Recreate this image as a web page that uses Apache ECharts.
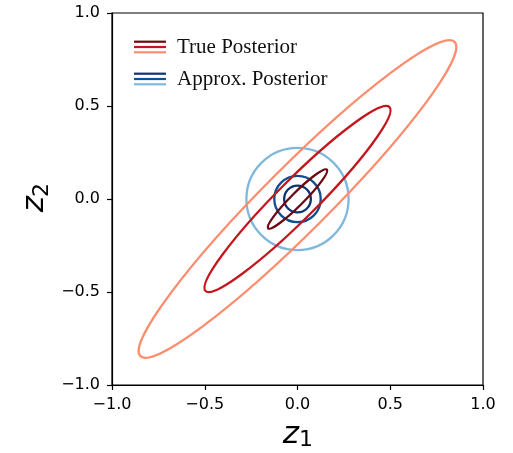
<!DOCTYPE html>
<html>
<head>
<meta charset="utf-8">
<title>Posterior contours</title>
<script src="https://cdn.jsdelivr.net/npm/echarts@6/dist/echarts.min.js"></script>
<style>
  html, body { margin: 0; padding: 0; background: #fff; }
  #main { width: 513px; height: 453px; }
</style>
</head>
<body>
<div id="main"></div>
<script>
// axis ticks (both axes)
var ticks = [-1.0, -0.5, 0.0, 0.5, 1.0];

// true posterior contours: centre, semi-major, semi-minor, angle (deg)
var trueCx = [0, 0, 0];
var trueCy = [0, 0, 0];
var trueMajor = [0.224, 0.70, 1.196];
var trueMinor = [0.034, 0.105, 0.175];
var trueAngle = [45, 45, 45];

// approx. posterior contours: centre and radius
var approxCx = [0, 0, 0];
var approxCy = [0, 0, 0];
var approxRadius = [0.072, 0.125, 0.275];

var legendNames = ['True Posterior', 'Approx. Posterior'];

// styles
var trueColors = ['#6b0811', '#c4161c', '#fc8d6e'];
var approxColors = ['#0b3470', '#0e4f92', '#7fb8dc'];

window.onload = function () {
  var myChart = echarts.init(document.getElementById('main'));

  var trueData = [];
  for (var i = 0; i < trueCx.length; i++) {
    trueData.push([trueCx[i], trueCy[i], trueMajor[i], trueMinor[i], trueAngle[i]]);
  }
  var approxData = [];
  for (var j = 0; j < approxCx.length; j++) {
    approxData.push([approxCx[j], approxCy[j], approxRadius[j], approxRadius[j], 0]);
  }

  function makeRender(colors) {
    return function (params, api) {
      var c = api.coord([api.value(0), api.value(1)]);
      var s = api.size([1, 1]);
      var k = (s[0] + s[1]) / 2;
      return {
        type: 'ellipse',
        x: c[0],
        y: c[1],
        rotation: api.value(4) * Math.PI / 180,
        shape: { cx: 0, cy: 0, rx: api.value(2) * k, ry: api.value(3) * k },
        style: { fill: null, stroke: colors[params.dataIndex], lineWidth: 2.3 }
      };
    };
  }

  var tickFmt = function (v) {
    return (v < 0 ? '\u2212' : '') + Math.abs(v).toFixed(1);
  };

  var axisCommon = {
    type: 'value',
    min: ticks[0],
    max: ticks[ticks.length - 1],
    interval: ticks[1] - ticks[0],
    splitLine: { show: false },
    axisLine: { show: true, onZero: false, lineStyle: { color: '#000', width: 1.2 } },
    axisTick: { show: true, inside: false, length: 5, lineStyle: { color: '#000', width: 1.2 } },
    axisLabel: {
      formatter: tickFmt,
      color: '#000',
      fontFamily: 'DejaVu Sans',
      fontSize: 16,
      margin: 12
    }
  };

  // legend drawn by hand (three stacked lines per entry)
  var legendEls = [];
  var groups = [trueColors, approxColors];
  var rowY = [47, 79];
  for (var g = 0; g < groups.length; g++) {
    for (var n = 0; n < 3; n++) {
      var yy = rowY[g] - 5.3 + n * 5.3;
      legendEls.push({
        type: 'line',
        shape: { x1: 134, y1: yy, x2: 166, y2: yy },
        style: { stroke: groups[g][n], lineWidth: 2.2 }
      });
    }
    legendEls.push({
      type: 'text',
      x: 177,
      y: rowY[g],
      style: {
        text: legendNames[g],
        fill: '#111',
        font: '21px "Liberation Serif"',
        textAlign: 'left',
        textVerticalAlign: 'middle'
      }
    });
  }

  var option = {
    backgroundColor: '#fff',
    animation: false,
    grid: {
      left: 112, right: 30, top: 13, bottom: 68,
      show: true, borderColor: '#000', borderWidth: 1.2
    },
    xAxis: echarts.util.merge({ position: 'bottom' }, axisCommon, true),
    yAxis: echarts.util.merge({ position: 'left' }, axisCommon, true),
    graphic: legendEls.concat([
      { type: 'text', x: 291, y: 435, style: { text: 'z', font: 'italic 31px "DejaVu Sans"', fill: '#000', textAlign: 'center', textVerticalAlign: 'middle' } },
      { type: 'text', x: 306, y: 440, style: { text: '1', font: '22px "DejaVu Sans"', fill: '#000', textAlign: 'center', textVerticalAlign: 'middle' } },
      { type: 'text', x: 35, y: 204, rotation: Math.PI / 2, style: { text: 'z', font: 'italic 31px "DejaVu Sans"', fill: '#000', textAlign: 'center', textVerticalAlign: 'middle' } },
      { type: 'text', x: 42, y: 190, rotation: Math.PI / 2, style: { text: '2', font: '22px "DejaVu Sans"', fill: '#000', textAlign: 'center', textVerticalAlign: 'middle' } }
    ]),
    series: [
      {
        type: 'custom',
        name: legendNames[1],
        coordinateSystem: 'cartesian2d',
        silent: true,
        clip: false,
        renderItem: makeRender(approxColors),
        data: approxData,
        z: 2
      },
      {
        type: 'custom',
        name: legendNames[0],
        coordinateSystem: 'cartesian2d',
        silent: true,
        clip: false,
        renderItem: makeRender(trueColors),
        data: trueData,
        z: 3
      }
    ]
  };

  myChart.setOption(option);
};
</script>
</body>
</html>
